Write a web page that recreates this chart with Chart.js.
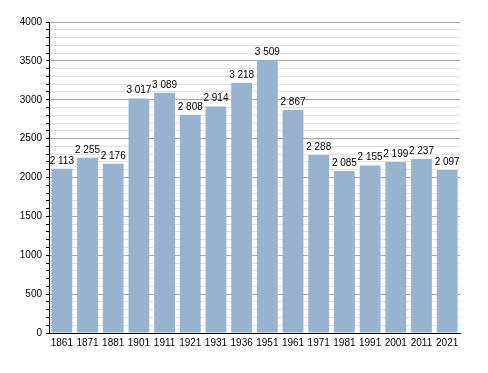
<!DOCTYPE html>
<html>
<head>
<meta charset="utf-8">
<script src="https://cdn.jsdelivr.net/npm/chart.js@4/dist/chart.umd.min.js"></script>
<style>
  html, body { margin: 0; padding: 0; background: #fff; }
  #wrap { width: 488px; height: 373px; }
</style>
</head>
<body>
<div id="wrap"><canvas id="pop-chart" width="488" height="373"></canvas></div>
<script>
const years = ['1861', '1871', '1881', '1901', '1911', '1921', '1931', '1936',
               '1951', '1961', '1971', '1981', '1991', '2001', '2011', '2021'];
const population = [2113, 2255, 2176, 3017, 3089, 2808, 2914, 3218,
                    3509, 2867, 2288, 2085, 2155, 2199, 2237, 2097];
const yMin = 0;
const yMax = 4000;
const majorStep = 500;
const minorStep = 100;

function formatNumber(v)
{
    return String(v).replace(/\B(?=(\d{3})+(?!\d))/g, ' ');
}

// draws the value above each bar
const valueLabels = {
    id: 'valueLabels',
    afterDatasetsDraw(chart) {
        const ctx = chart.ctx;
        const meta = chart.getDatasetMeta(0);
        ctx.save();
        ctx.font = '10px "Liberation Sans", Arial, sans-serif';
        ctx.fillStyle = '#000';
        ctx.textAlign = 'center';
        ctx.textBaseline = 'alphabetic';
        meta.data.forEach((bar, i) => {
            ctx.fillText(formatNumber(population[i]), bar.x, bar.y - 5);
        });
        ctx.restore();
    }
};

const chartCanvas = document.getElementById('pop-chart');

new Chart(chartCanvas, {
    type: 'bar',
    data: {
        labels: years,
        datasets: [{
            data: population,
            backgroundColor: '#98b3cf',
            borderWidth: 0,
            barPercentage: 0.81,
            categoryPercentage: 1.0
        }]
    },
    options: {
        responsive: false,
        animation: false,
        layout: { padding: { top: 22, right: 28, left: 0, bottom: 0 } },
        plugins: {
            legend: { display: false },
            tooltip: { enabled: false }
        },
        scales: {
            x: {
                grid: { display: false, drawTicks: false },
                border: { display: true, color: '#000', width: 1 },
                ticks: {
                    color: '#000',
                    padding: 4,
                    maxRotation: 0,
                    autoSkip: false,
                    font: { family: '"Liberation Sans", Arial, sans-serif', size: 10 }
                },
                afterFit: s => { s.height = 40; }
            },
            y: {
                min: yMin,
                max: yMax,
                afterFit: s => { s.width = 49; },
                ticks: {
                    stepSize: minorStep,
                    autoSkip: false,
                    color: '#000',
                    padding: 4,
                    font: { family: '"Liberation Sans", Arial, sans-serif', size: 10 },
                    callback: v => (v % majorStep === 0 ? String(v) : '')
                },
                grid: {
                    color: c => (c.tick && c.tick.value % majorStep === 0 ? '#a8a8a8' : '#e2e2e2'),
                    tickColor: '#000',
                    tickLength: 3,
                    lineWidth: 1
                },
                border: { display: true, color: '#000', width: 1 }
            }
        }
    },
    plugins: [valueLabels]
});
</script>
</body>
</html>
